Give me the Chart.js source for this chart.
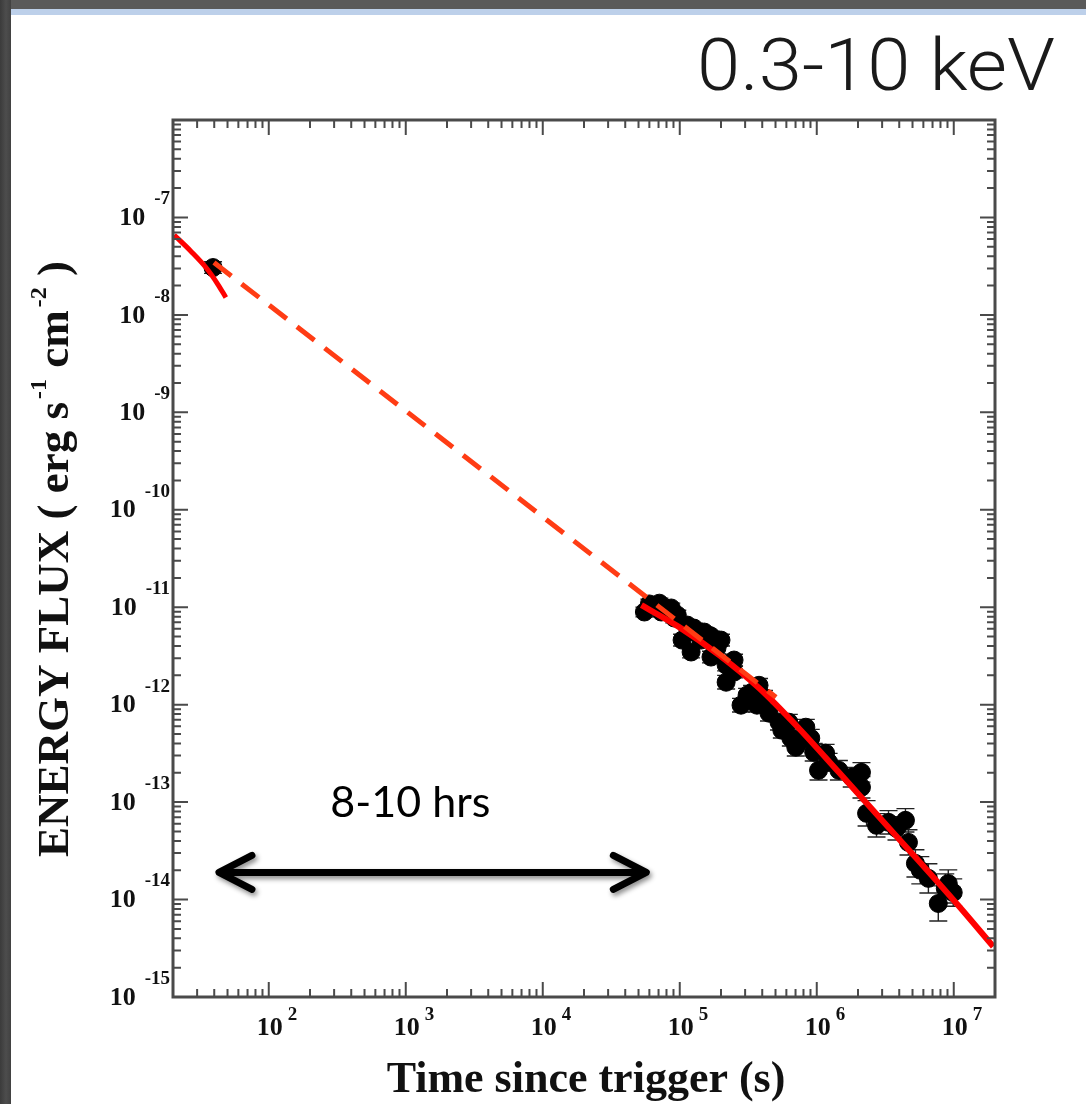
<!DOCTYPE html>
<html>
<head>
<meta charset="utf-8">
<script src="https://cdn.jsdelivr.net/npm/chart.js@4.4.0/dist/chart.umd.min.js"></script>
<style>
html, body { margin: 0; padding: 0; }
body { width: 1086px; height: 1104px; overflow: hidden; position: relative;
       background: linear-gradient(90deg, #3b3b3b, #4d4d4d 6px, #414141 11px); }
#paper { position: absolute; left: 11px; top: 9px; right: 0; bottom: 0; background: #fff; border-top: 6px solid #bdd0ea; }
#topband { position: absolute; left: 11px; top: 0; right: 0; height: 9px; background: #5a5a5a; }
#wrap { position: absolute; left: 0; top: 0; width: 1086px; height: 1104px; }
</style>
</head>
<body>
<div id="topband"></div>
<div id="paper"></div>
<div id="wrap"><canvas id="fluxChart" width="1086" height="1104"></canvas></div>
<script>
// observed light curve (s, erg/s/cm2), error half width in dex
var times  = [39.2, 5.52e4, 6.0e4, 6.53e4, 7.1e4, 7.33e4, 7.71e4, 8.67e4, 9.12e4, 9.59e4, 1.04e5, 1.135e5, 1.21e5, 1.27e5, 1.27e5, 1.43e5, 1.51e5,
              1.69e5, 1.69e5, 1.87e5, 2.0e5, 2.18e5, 2.18e5, 2.49e5, 2.49e5, 2.80e5, 3.1e5, 3.37e5, 3.66e5, 3.79e5, 4.12e5, 4.48e5, 5.3e5,
              5.56e5, 6.25e5, 6.47e5, 7.03e5, 7.65e5, 8.32e5, 9.04e5, 9.5e5, 1.03e6, 1.16e6, 1.22e6, 1.45e6, 1.80e6, 2.12e6, 2.12e6, 2.31e6,
              2.73e6, 3.34e6, 3.82e6, 4.44e6, 4.67e6, 5.25e6, 5.7e6, 6.53e6, 7.71e6, 8.67e6, 9.12e6, 9.91e6];
var fluxes = [3.06e-8, 8.93e-12, 1.08e-11, 1.05e-11, 1.10e-11, 8.93e-12, 9.35e-12, 9.82e-12, 7.75e-12, 8.31e-12, 4.60e-12, 6.56e-12, 3.47e-12, 6.11e-12, 5.56e-12, 4.60e-12, 5.56e-12,
              5.06e-12, 3.08e-12, 3.81e-12, 4.60e-12, 2.55e-12, 1.70e-12, 2.16e-12, 2.87e-12, 9.88e-13, 1.25e-12, 1.34e-12, 9.88e-13, 1.58e-12, 1.19e-12, 8.18e-13, 6.61e-13,
              5.47e-13, 6.61e-13, 4.53e-13, 3.66e-13, 4.32e-13, 5.87e-13, 4.53e-13, 3.25e-13, 2.12e-13, 3.18e-13, 2.57e-13, 2.12e-13, 1.80e-13, 2.02e-13, 1.42e-13, 7.67e-14,
              5.78e-14, 6.20e-14, 5.38e-14, 6.50e-14, 3.86e-14, 2.35e-14, 2.0e-14, 1.65e-14, 9.12e-15, 1.30e-14, 1.46e-14, 1.18e-14];
var errDex = [0.06, 0.05, 0.05, 0.05, 0.05, 0.05, 0.05, 0.05, 0.05, 0.05, 0.06, 0.05, 0.06, 0.05, 0.05, 0.05, 0.05,
              0.05, 0.06, 0.06, 0.06, 0.06, 0.07, 0.06, 0.06, 0.07, 0.07, 0.07, 0.07, 0.07, 0.07, 0.08, 0.08,
              0.08, 0.08, 0.08, 0.09, 0.09, 0.08, 0.09, 0.09, 0.10, 0.09, 0.09, 0.10, 0.10, 0.10, 0.11, 0.13,
              0.12, 0.12, 0.12, 0.12, 0.13, 0.14, 0.14, 0.15, 0.18, 0.15, 0.14, 0.14];

// model curves
var earlyFitTime = [20.4, 27.1, 34.8, 42.6, 48.6];
var earlyFitFlux = [6.6e-8, 4.48e-8, 3.06e-8, 2.05e-8, 1.51e-8];
var dashFitTime = [39.8, 5.04e5];
var dashFitFlux = [3.45e-8, 1.19e-12];
var lateFitTime = [5.25e4, 9.91e4, 1.94e5, 3.79e5, 7.39e5, 1.45e6, 2.82e6, 5.52e6, 1.08e7, 1.94e7];
var lateFitFlux = [1.05e-11, 6.25e-12, 3.23e-12, 1.48e-12, 5.73e-13, 2.02e-13, 7.14e-14, 2.52e-14, 8.69e-15, 3.30e-15];

// the "8-10 hrs" arrow
var arrowTime = [43.3, 5.70e4];
var arrowFlux = 1.9e-14;
var arrowLabel = "8-10 hrs";
var arrowLabelAt = [1080, 9.7e-14];

var xTickExps = [2, 3, 4, 5, 6, 7];
var yTickExps = [-15, -14, -13, -12, -11, -10, -9, -8, -7];

function pairs(xs, ys) {
	var out = [];
	for (var i = 0; i < xs.length; i++) out.push({x: xs[i], y: ys[i]});
	return out;
}

function logTicks(min, max) {
	var out = [];
	for (var e = Math.floor(Math.log10(min)); e <= Math.ceil(Math.log10(max)); e++) {
		for (var d = 1; d < 10; d++) {
			var v = d * Math.pow(10, e);
			if (v >= min * 0.999 && v <= max * 1.001) out.push({v: v, major: d === 1});
		}
	}
	return out;
}

var serif = '"Liberation Serif", "Times New Roman", serif';

var decor = {
	id: 'decor',
	beforeDatasetsDraw: function(chart) {
		var ctx = chart.ctx, xs = chart.scales.x, ys = chart.scales.y;
		ctx.save();
		ctx.strokeStyle = '#222';
		ctx.lineWidth = 1.4;
		for (var i = 0; i < times.length; i++) {
			var px = xs.getPixelForValue(times[i]);
			var lo = ys.getPixelForValue(fluxes[i] / Math.pow(10, errDex[i]));
			var hi = ys.getPixelForValue(fluxes[i] * Math.pow(10, errDex[i]));
			ctx.beginPath();
			ctx.moveTo(px, lo); ctx.lineTo(px, hi);
			ctx.moveTo(px - 9, lo); ctx.lineTo(px + 9, lo);
			ctx.moveTo(px - 9, hi); ctx.lineTo(px + 9, hi);
			ctx.stroke();
		}
		ctx.restore();
	},
	afterDatasetsDraw: function(chart) {
		var ctx = chart.ctx, xs = chart.scales.x, ys = chart.scales.y, a = chart.chartArea;
		var i, t, p;
		ctx.save();

		// frame and inward ticks on all four sides
		ctx.strokeStyle = '#4a4a4a';
		ctx.lineWidth = 3;
		ctx.strokeRect(a.left, a.top, a.right - a.left, a.bottom - a.top);
		ctx.lineWidth = 2;
		ctx.beginPath();
		var xt = logTicks(xs.min, xs.max);
		for (i = 0; i < xt.length; i++) {
			p = xs.getPixelForValue(xt[i].v);
			t = xt[i].major ? 15 : 8;
			ctx.moveTo(p, a.bottom); ctx.lineTo(p, a.bottom - t);
			ctx.moveTo(p, a.top); ctx.lineTo(p, a.top + t);
		}
		var yt = logTicks(ys.min, ys.max);
		for (i = 0; i < yt.length; i++) {
			p = ys.getPixelForValue(yt[i].v);
			t = yt[i].major ? 15 : 8;
			ctx.moveTo(a.left, p); ctx.lineTo(a.left + t, p);
			ctx.moveTo(a.right, p); ctx.lineTo(a.right - t, p);
		}
		ctx.stroke();

		// tick labels, 10 with raised exponent
		ctx.fillStyle = '#111';
		ctx.textBaseline = 'middle';
		for (i = 0; i < xTickExps.length; i++) {
			p = xs.getPixelForValue(Math.pow(10, xTickExps[i]));
			ctx.font = 'bold 26px ' + serif;
			ctx.textAlign = 'center';
			ctx.fillText('10', p + 1, a.bottom + 31);
			ctx.font = 'bold 19px ' + serif;
			ctx.textAlign = 'left';
			ctx.fillText(String(xTickExps[i]), p + 19, a.bottom + 18);
		}
		for (i = 0; i < yTickExps.length; i++) {
			p = ys.getPixelForValue(Math.pow(10, yTickExps[i]));
			ctx.font = 'bold 19px ' + serif;
			ctx.textAlign = 'right';
			var es = '-' + Math.abs(yTickExps[i]);
			ctx.fillText(es, a.left - 3, p - 18);
			var w = ctx.measureText(es).width;
			ctx.font = 'bold 26px ' + serif;
			ctx.fillText('10', a.left - 3 - w - 9, p + 1);
		}

		// axis titles
		ctx.textBaseline = 'alphabetic';
		ctx.textAlign = 'center';
		ctx.font = 'bold 44px ' + serif;
		ctx.fillText('Time since trigger (s)', 586, 1092);

		var parts = [['ENERGY FLUX ( erg s', 0], ['-1', 1], [' cm', 0], ['-2', 1], [' )', 0]];
		ctx.save();
		ctx.translate(68, 857);
		ctx.rotate(-Math.PI / 2);
		ctx.textAlign = 'left';
		var cx = 0;
		for (i = 0; i < parts.length; i++) {
			ctx.font = parts[i][1] ? 'bold 24px ' + serif : 'bold 45px ' + serif;
			ctx.fillText(parts[i][0], cx + (parts[i][1] ? 3 : 0), parts[i][1] ? -22 : 0);
			cx += ctx.measureText(parts[i][0]).width + (parts[i][1] ? 3 : 0);
		}
		ctx.restore();

		// energy band title
		ctx.save();
		ctx.font = '300 72px Roboto, "Open Sans", sans-serif';
		ctx.textAlign = 'right';
		var tw = ctx.measureText('0.3-10 keV').width;
		ctx.translate(1055, 90);
		ctx.scale(358 / tw, 1);
		ctx.fillStyle = '#1a1a1a';
		ctx.fillText('0.3-10 keV', 0, 0);
		ctx.restore();

		// double arrow
		var x1 = xs.getPixelForValue(arrowTime[0]), x2 = xs.getPixelForValue(arrowTime[1]);
		var ay = ys.getPixelForValue(arrowFlux);
		ctx.save();
		ctx.shadowColor = 'rgba(0,0,0,0.45)';
		ctx.shadowBlur = 5;
		ctx.shadowOffsetX = 2;
		ctx.shadowOffsetY = 3;
		ctx.strokeStyle = '#000';
		ctx.lineWidth = 7;
		ctx.lineCap = 'round';
		ctx.lineJoin = 'round';
		ctx.beginPath();
		ctx.moveTo(x1 + 4, ay); ctx.lineTo(x2 - 4, ay);
		ctx.moveTo(x1 + 33, ay - 17); ctx.lineTo(x1, ay); ctx.lineTo(x1 + 33, ay + 17);
		ctx.moveTo(x2 - 33, ay - 17); ctx.lineTo(x2, ay); ctx.lineTo(x2 - 33, ay + 17);
		ctx.stroke();
		ctx.restore();

		ctx.font = '43px Lato, "Open Sans", sans-serif';
		ctx.textAlign = 'center';
		ctx.textBaseline = 'middle';
		ctx.fillStyle = '#000';
		ctx.fillText(arrowLabel, xs.getPixelForValue(arrowLabelAt[0]), ys.getPixelForValue(arrowLabelAt[1]));

		ctx.restore();
	}
};

var fluxChart = new Chart(document.getElementById('fluxChart'), {
	type: 'scatter',
	data: {
		datasets: [
			{
				label: 'extrapolation',
				data: pairs(dashFitTime, dashFitFlux),
				showLine: true,
				borderColor: '#ff3c14',
				borderWidth: 5,
				borderDash: [22, 13],
				pointRadius: 0,
				fill: false
			},
			{
				label: 'late fit',
				data: pairs(lateFitTime, lateFitFlux),
				showLine: true,
				borderColor: '#ff0000',
				borderWidth: 6,
				pointRadius: 0,
				cubicInterpolationMode: 'monotone',
				fill: false
			},
			{
				label: 'early fit',
				data: pairs(earlyFitTime, earlyFitFlux),
				showLine: true,
				borderColor: '#ff0000',
				borderWidth: 5,
				pointRadius: 0,
				cubicInterpolationMode: 'monotone',
				fill: false
			},
			{
				label: 'XRT',
				data: pairs(times, fluxes),
				backgroundColor: '#000',
				borderColor: '#000',
				borderWidth: 1,
				pointRadius: 9
			}
		]
	},
	options: {
		responsive: false,
		animation: false,
		layout: { padding: { left: 173, right: 91, top: 120, bottom: 107 } },
		plugins: { legend: { display: false }, tooltip: { enabled: false } },
		scales: {
			x: {
				type: 'logarithmic', min: 20, max: 2e7,
				grid: { display: false, drawTicks: false },
				border: { display: false },
				ticks: { display: false },
				afterFit: function(s) { s.height = 0; }
			},
			y: {
				type: 'logarithmic', min: 1e-15, max: 1e-6,
				grid: { display: false, drawTicks: false },
				border: { display: false },
				ticks: { display: false },
				afterFit: function(s) { s.width = 0; }
			}
		}
	},
	plugins: [decor]
});
</script>
</body>
</html>
